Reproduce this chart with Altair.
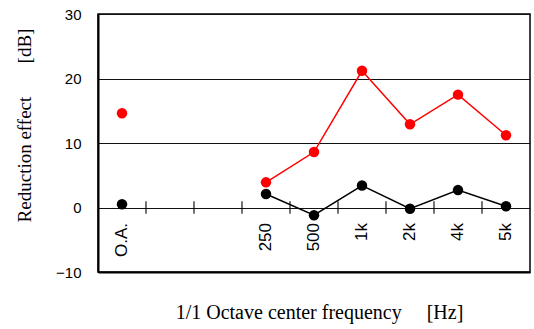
import altair as alt
import pandas as pd

# Octave bands along the x axis (two empty slots between O.A. and 250 Hz)
bands = ["O.A.", "", "", "250", "500", "1k", "2k", "4k", "5k"]

# Reduction effect [dB] per band for each condition (None = no measurement)
red_values = [14.6, None, None, 3.9, 8.6, 21.2, 12.9, 17.5, 11.2]
black_values = [0.5, None, None, 2.1, -1.2, 3.4, -0.2, 2.7, 0.2]

rows = []
for series, vals in (("red", red_values), ("black", black_values)):
    for i, (b, v) in enumerate(zip(bands, vals)):
        if v is not None:
            rows.append({"series": series, "pos": i, "band": b, "value": v,
                         "overall": b == "O.A."})
df = pd.DataFrame(rows)

labels_df = pd.DataFrame({"pos": list(range(len(bands))), "band": bands})
labels_df = labels_df[labels_df["band"] != ""]
ticks_df = pd.DataFrame({"pos": [i + 0.5 for i in range(len(bands) - 1)]})

x_scale = alt.Scale(domain=[-0.5, len(bands) - 0.5], nice=False, zero=False)
y_scale = alt.Scale(domain=[-10, 30], nice=False)
colors = alt.Scale(domain=["red", "black"], range=["#ff0000", "#000000"])

nb = "\u00a0"
x_axis = alt.Axis(
    title="1/1 Octave center frequency" + nb * 5 + "[Hz]",
    labels=False, ticks=False, grid=False,
    domain=True, domainColor="black", domainWidth=2,
    titleFont="Liberation Serif", titleFontSize=20, titleFontWeight="normal",
    titleColor="black", titleX=221, titleY=40, titleBaseline="middle",
)
y_axis = alt.Axis(
    title="Reduction effect" + nb * 7 + "[dB]",
    values=[-10, 0, 10, 20, 30], ticks=False,
    labelFont="Liberation Sans", labelFontSize=15, labelColor="black",
    labelPadding=17,
    domain=True, domainColor="black", domainWidth=2,
    grid=True, gridColor="#111111", gridWidth=1.1,
    titleFont="Liberation Serif", titleFontSize=19, titleFontWeight="normal",
    titleColor="black", titleAngle=270, titleX=-74, titleY=111,
    titleAlign="center", titleBaseline="middle",
)

base = alt.Chart(df).encode(
    x=alt.X("pos:Q", scale=x_scale, axis=x_axis),
    y=alt.Y("value:Q", scale=y_scale, axis=y_axis),
    color=alt.Color("series:N", scale=colors, legend=None),
)

lines = base.transform_filter("!datum.overall").mark_line(strokeWidth=1.5)
points = base.mark_circle(size=110, opacity=1)

# short tick marks across the zero line at the band boundaries
tick_marks = alt.Chart(ticks_df).mark_rule(color="black", strokeWidth=1.1).encode(
    x=alt.X("pos:Q", scale=x_scale),
    y=alt.datum(-0.95),
    y2=alt.datum(0.95),
)
band_labels = alt.Chart(labels_df).mark_text(
    angle=270, align="right", baseline="middle",
    font="Liberation Sans", fontSize=17, color="black",
).encode(
    x=alt.X("pos:Q", scale=x_scale),
    y=alt.datum(-2.4),
    text="band:N",
)

chart = alt.layer(tick_marks, lines, points, band_labels).properties(
    width=432,
    height=258,
    autosize=alt.AutoSizeParams(type="none"),
    padding={"left": 98, "top": 14, "right": 4, "bottom": 57},
    background="white",
).configure_view(stroke="black", strokeWidth=1.5)

chart.save("out.html", embed_options={"renderer": "svg", "actions": False})
